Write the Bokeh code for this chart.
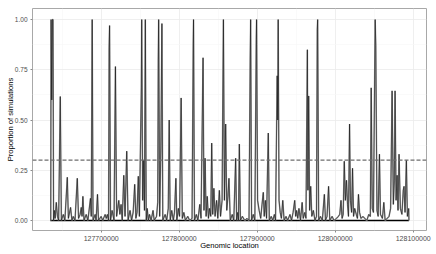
from bokeh.plotting import figure
from bokeh.models import Span, FixedTicker, BasicTickFormatter, NumeralTickFormatter, Range1d
from bokeh.embed import file_html
from bokeh.resources import INLINE

# Genomic location vs proportion of simulations
loc = [
    127635000, 127635400, 127635800, 127636600, 127637600, 127638300, 127639000, 127640000, 127641000, 127642500,
    127644000, 127645500, 127647600, 127649000, 127651500, 127653500, 127656600, 127658000, 127660800, 127662500,
    127664200, 127666500, 127669400, 127671000, 127673000, 127674500, 127675500, 127676600, 127678000, 127680800,
    127683000, 127686300, 127687300, 127688500, 127689600, 127692300, 127693500, 127695300, 127696600, 127700000,
    127702000, 127705100, 127706500, 127708000, 127709500, 127710200, 127710800, 127712000, 127714000, 127716500,
    127718300, 127719800, 127721200, 127722600, 127724000, 127725500, 127727000, 127729000, 127730600, 127732800,
    127734500, 127737000, 127739000, 127741000, 127743000, 127744500, 127746000, 127747600, 127749000, 127751500,
    127752000, 127753200, 127754500, 127755500, 127756600, 127757800, 127759000, 127760500, 127762000, 127764000,
    127766500, 127768000, 127771000, 127772500, 127773200, 127773700, 127775000, 127776500, 127777900, 127779000,
    127782000, 127784000, 127786000, 127787200, 127788500, 127790500, 127792500, 127794000, 127795800, 127797000,
    127799000, 127800500, 127802500, 127804000, 127806000, 127808000, 127811000, 127813500, 127816500, 127818000,
    127818400, 127819600, 127822000, 127824000, 127826400, 127828000, 127830600, 127831800, 127833200, 127834500,
    127836000, 127837500, 127839000, 127840500, 127841700, 127843000, 127844500, 127846000, 127848000, 127849500,
    127851500, 127853000, 127855000, 127856200, 127856700, 127858000, 127859600, 127861000, 127862500, 127863800,
    127865500, 127868000, 127870000, 127872400, 127873600, 127875000, 127876000, 127877100, 127878500, 127881000,
    127884000, 127887000, 127889500, 127891000, 127891600, 127892800, 127895000, 127897000, 127898800, 127899200,
    127900500, 127902500, 127904500, 127906200, 127907800, 127909000, 127910500, 127912000, 127914200, 127915500,
    127918000, 127920000, 127922000, 127923500, 127925600, 127926300, 127926900, 127928000, 127929500, 127931000,
    127932800, 127934500, 127937000, 127939000, 127942000, 127944000, 127946000, 127948100, 127949300, 127950500,
    127952000, 127953500, 127955500, 127957600, 127959000, 127961000, 127962500, 127964300, 127965000, 127966000,
    127967200, 127968600, 127970000, 127972000, 127974000, 127976000, 127977000, 127977500, 127978800, 127981000,
    127983500, 127986100, 127987500, 127989500, 127991500, 127993000, 127996000, 127998500, 128001500, 128004000,
    128005800, 128007400, 128008800, 128010200, 128011600, 128013000, 128014500, 128015800, 128017000, 128018400,
    128019500, 128021000, 128022200, 128023500, 128025000, 128027000, 128028500, 128029800, 128031200, 128033000,
    128035500, 128038000, 128040500, 128043000, 128045000, 128046100, 128047500, 128049000, 128050500, 128051200,
    128052000, 128053500, 128055000, 128056700, 128058000, 128060500, 128062300, 128064000, 128066500, 128069000,
    128071000, 128072900, 128074500, 128075800, 128076700, 128078000, 128079300, 128080500, 128081800, 128083500,
    128085500, 128087200, 128088200, 128089500, 128091200, 128092500, 128094200, 128094500,
]
prop = [
    0.0, 0.0, 1.0, 0.6, 1.0, 1.0, 0.0, 0.05, 0.01, 0.09,
    0.02, 0.0, 0.617, 0.0, 0.03, 0.0, 0.215, 0.01, 0.065, 0.0,
    0.02, 0.0, 0.21, 0.01, 0.03, 0.065, 0.02, 0.12, 0.0, 0.03,
    0.0, 0.11, 0.02, 1.0, 0.0, 0.03, 0.0, 0.13, 0.0, 0.02,
    0.0, 0.03, 0.01, 0.03, 0.0, 0.86, 0.97, 0.0, 0.05, 0.0,
    0.766, 0.02, 0.06, 0.1, 0.03, 0.08, 0.0, 0.225, 0.02, 0.345,
    0.0, 0.05, 0.0, 0.04, 0.18, 0.01, 0.04, 0.22, 0.02, 0.66,
    1.0, 0.1, 0.3, 0.05, 1.0, 0.0, 0.06, 0.0, 0.03, 0.0,
    0.05, 0.0, 0.02, 0.09, 0.8, 1.0, 0.02, 0.35, 0.98, 0.0,
    0.03, 0.0, 0.06, 0.5, 0.0, 0.05, 0.0, 0.04, 0.21, 0.0,
    0.06, 0.02, 0.61, 0.01, 0.04, 0.0, 0.02, 0.0, 0.01, 0.88,
    1.0, 0.0, 0.03, 0.0, 0.08, 0.01, 0.81, 0.05, 0.31, 0.02,
    0.12, 0.01, 0.06, 0.02, 0.385, 0.03, 0.16, 0.02, 0.1, 0.01,
    0.15, 0.02, 0.1, 0.75, 1.0, 0.1, 0.48, 0.05, 0.12, 0.21,
    0.0, 0.03, 0.0, 0.31, 0.0, 0.04, 0.0, 0.38, 0.0, 0.02,
    0.0, 0.01, 0.0, 0.8, 1.0, 0.0, 0.03, 0.0, 0.9, 1.0,
    0.1, 0.05, 0.01, 0.08, 0.14, 0.02, 0.1, 0.01, 0.435, 0.0,
    0.02, 0.0, 0.03, 0.0, 0.72, 0.5, 1.0, 0.1, 0.04, 0.01,
    0.1, 0.0, 0.02, 0.0, 0.03, 0.0, 0.04, 0.1, 0.02, 0.05,
    0.01, 0.06, 0.0, 0.09, 0.01, 0.04, 0.01, 0.85, 0.15, 0.62,
    0.05, 0.17, 0.02, 0.05, 0.0, 0.02, 0.95, 1.0, 0.0, 0.02,
    0.0, 0.13, 0.0, 0.02, 0.17, 0.0, 0.02, 0.0, 0.01, 0.02,
    0.03, 0.1, 0.01, 0.03, 0.295, 0.1, 0.2, 0.08, 0.02, 0.48,
    0.1, 0.04, 0.26, 0.02, 0.06, 0.03, 0.01, 0.13, 0.04, 0.01,
    0.02, 0.01, 0.0, 0.03, 0.02, 0.66, 0.06, 0.04, 0.7, 1.0,
    0.87, 0.05, 0.02, 0.33, 0.03, 0.01, 0.09, 0.0, 0.01, 0.02,
    0.06, 0.645, 0.08, 0.2, 0.645, 0.1, 0.225, 0.05, 0.33, 0.06,
    0.03, 0.15, 0.17, 0.04, 0.3, 0.02, 0.06, 0.0,
]
# simulations sitting at zero across the whole region
base_loc = [127635000, 128094500]
base_prop = [0.0, 0.0]

threshold = 0.3
x_ticks = [127700000, 127800000, 127900000, 128000000, 128100000]
x_minor = [127650000, 127750000, 127850000, 127950000, 128050000]
y_ticks = [0.0, 0.25, 0.5, 0.75, 1.0]
y_minor = [0.125, 0.375, 0.625, 0.875]

FONT = "Liberation Sans"

p = figure(width=436, height=254, output_backend="svg", toolbar_location=None,
           x_range=Range1d(127612000, 128117000), y_range=Range1d(-0.05, 1.055),
           min_border_left=32, min_border_right=10, min_border_top=8, min_border_bottom=24)

p.background_fill_color = "white"
p.border_fill_color = "white"
p.outline_line_color = "#a8a8a8"
p.outline_line_width = 1

# grid
p.xaxis.ticker = FixedTicker(ticks=x_ticks, minor_ticks=x_minor)
p.yaxis.ticker = FixedTicker(ticks=y_ticks, minor_ticks=y_minor)
p.grid.grid_line_color = "#ebebeb"
p.grid.grid_line_width = 0.8
p.grid.minor_grid_line_color = "#f6f6f6"
p.grid.minor_grid_line_width = 0.6

# data
p.line(base_loc, base_prop, line_color="black", line_width=1.4)
p.line(loc, prop, line_color="#9a9a9a", line_width=1.5)
p.line(loc, prop, line_color="black", line_width=0.5)

p.add_layout(Span(location=threshold, dimension="width", line_color="#6e6e6e",
                  line_width=1.2, line_dash="4 2"))

# axes
p.xaxis.formatter = BasicTickFormatter(use_scientific=False)
p.yaxis.formatter = NumeralTickFormatter(format="0.00")
for ax in (p.xaxis, p.yaxis):
    ax.axis_line_color = None
    ax.major_tick_line_color = "#8a8a8a"
    ax.major_tick_out = 2
    ax.major_tick_in = 0
    ax.minor_tick_line_color = None
    ax.major_label_text_font = FONT
    ax.major_label_text_color = "#4d4d4d"
    ax.axis_label_text_font = FONT
    ax.axis_label_text_font_size = "7.6px"
    ax.axis_label_text_font_style = "normal"
    ax.axis_label_text_color = "black"
    ax.major_label_standoff = 1
p.xaxis.major_label_text_font_size = "7px"
p.yaxis.major_label_text_font_size = "6.5px"
p.yaxis.axis_label_standoff = -3
p.xaxis.axis_label_standoff = -3

p.xaxis.axis_label = "Genomic location"
p.yaxis.axis_label = "Proportion of simulations"

open("out.html", "w").write(file_html(p, INLINE))
